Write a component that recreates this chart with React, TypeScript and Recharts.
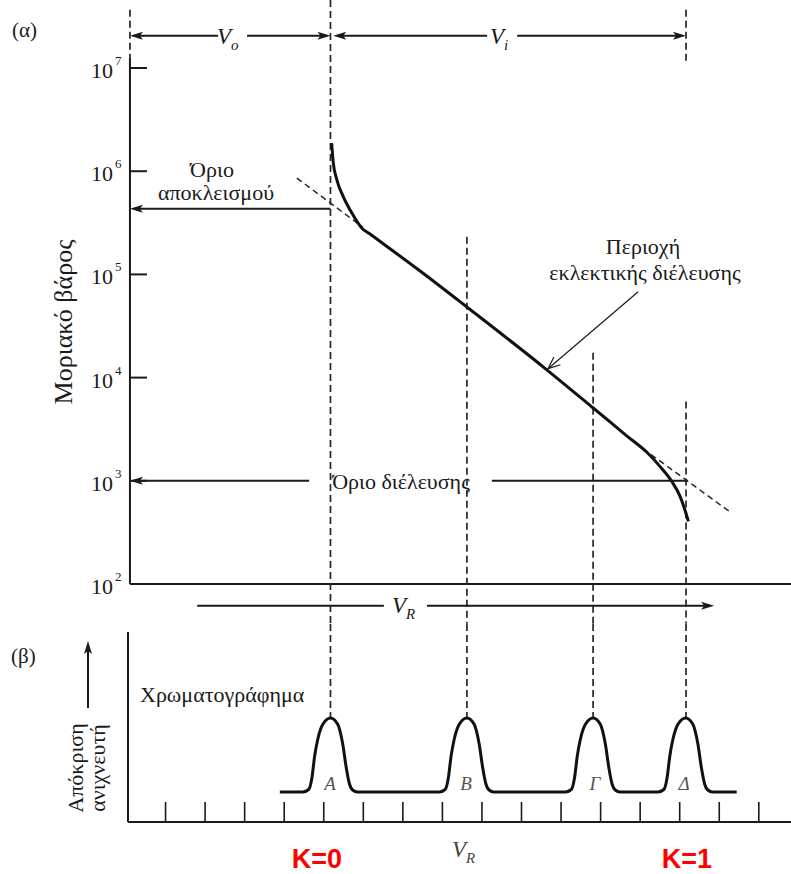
import React from 'react';
import { LineChart, Line, XAxis, YAxis, ReferenceLine } from 'recharts';

// ---------------- data ----------------
// (a) molecular weight calibration curve: elution volume (tick units) vs molar mass
const curveV = [5.2, 5.24, 5.33, 5.49, 5.71, 5.96, 6.17, 7.52, 8.61, 10.64, 11.82, 12.66, 13.17, 13.5, 13.8, 14.01, 14.13, 14.22];
const curveM = [1.87e6, 1.21e6, 8.3e5, 5.7e5, 3.94e5, 2.82e5, 2.46e5, 1.02e5, 4.86e4, 1.19e4, 5.05e3, 2.73e3, 1.89e3, 1.38e3, 987, 706, 525, 404];
const upperTangentV = [4.32, 5.99];
const upperTangentM = [8.59e5, 2.86e5];
const lowerTangentV = [13.07, 15.31];
const lowerTangentM = [2.05e3, 488];
const yTickExponents = [2, 3, 4, 5, 6, 7];
const yTicks = yTickExponents.map((e) => Math.pow(10, e));

// limits
const exclusionLimitM = 4.33e5;
const permeationLimitM = 1000;

// (b) chromatogram
const peakNames = ['A', 'B', 'Γ', 'Δ'];
const peakV = [5.17, 8.62, 11.81, 14.16];
const peakTop = 10.4;
const chromV = [
  3.89,
  4.47, 4.62, 4.7, 4.77, 4.85, 4.98, 5.17, 5.35, 5.48, 5.57, 5.65, 5.73, 5.85,
  7.92, 8.07, 8.15, 8.22, 8.3, 8.43, 8.62, 8.8, 8.93, 9.02, 9.1, 9.18, 9.3,
  11.11, 11.26, 11.34, 11.41, 11.49, 11.62, 11.81, 11.99, 12.12, 12.21, 12.29, 12.37, 12.49,
  13.45, 13.6, 13.68, 13.75, 13.83, 13.96, 14.15, 14.33, 14.46, 14.55, 14.63, 14.71, 14.83,
  15.44,
];
const chromR = [
  3.0,
  3.0, 3.25, 4.4, 6.6, 8.3, 9.8, 10.4, 9.8, 7.8, 5.4, 3.8, 3.2, 3.0,
  3.0, 3.25, 4.4, 6.6, 8.3, 9.8, 10.4, 9.8, 7.8, 5.4, 3.8, 3.2, 3.0,
  3.0, 3.25, 4.4, 6.6, 8.3, 9.8, 10.4, 9.8, 7.8, 5.4, 3.8, 3.2, 3.0,
  3.0, 3.25, 4.4, 6.6, 8.3, 9.8, 10.4, 9.8, 7.8, 5.4, 3.8, 3.2, 3.0,
  3.0,
];
const xTickValues = [1, 2, 3, 4, 5, 6, 7, 8, 9, 10, 11, 12, 13, 14, 15, 16];

// ---------------- layout constants ----------------
const X_MAX = 16.814;
const M_MIN = 100;
const M_MAX = 4.08e7;
const AXIS_X_TOP = 0.1;
const AXIS_X_BOT = 0.05;
const INK = '#1a1a1a';
const DASH = '#262626';
const SERIF = "'Liberation Serif', 'DejaVu Serif', serif";
const SANS = "'Liberation Sans', Arial, sans-serif";

const curveData = curveV.map((v, i) => ({ v, m: curveM[i] }));
const upperTangentData = upperTangentV.map((v, i) => ({ v, m: upperTangentM[i] }));
const lowerTangentData = lowerTangentV.map((v, i) => ({ v, m: lowerTangentM[i] }));
const chromData = chromV.map((v, i) => ({ v, r: chromR[i] }));

type HeadKind = 'none' | 'end';
const makeArrow = (head: HeadKind, open = false, w = 2) => (p: any) => {
  const { x1, y1, x2, y2 } = p;
  const dx = x2 - x1;
  const dy = y2 - y1;
  const len = Math.hypot(dx, dy) || 1;
  const ux = dx / len;
  const uy = dy / len;
  const L = open ? 12 : 13;
  const W = open ? 5 : 4;
  const bx = x2 - ux * L;
  const by = y2 - uy * L;
  const lx = bx - uy * W;
  const ly = by + ux * W;
  const rx = bx + uy * W;
  const ry = by - ux * W;
  const filled = head === 'end' && !open;
  return (
    <g>
      <line x1={x1} y1={y1} x2={filled ? x2 - ux * 4 : x2} y2={filled ? y2 - uy * 4 : y2} stroke={INK} strokeWidth={w} />
      {head === 'end' && open && (
        <polyline points={`${lx},${ly} ${x2},${y2} ${rx},${ry}`} fill="none" stroke={INK} strokeWidth={w} />
      )}
      {filled && (
        <polygon points={`${x2},${y2} ${lx},${ly} ${bx + ux * 3},${by + uy * 3} ${rx},${ry}`} fill={INK} />
      )}
    </g>
  );
};

const YTick = (props: any) => {
  const { y, payload } = props;
  const exp = Math.round(Math.log10(payload.value));
  return (
    <g style={{ fontFamily: SERIF }}>
      <text x={113} y={y + 10} textAnchor="end" fontSize={22} fill={INK} style={{ fontFamily: SERIF }}>10</text>
      <text x={115} y={y - 3} fontSize={13} fill={INK} style={{ fontFamily: SERIF }}>{exp}</text>
    </g>
  );
};

const dashProps = { stroke: DASH, strokeWidth: 1.7, strokeDasharray: '7 4', ifOverflow: 'visible' as const };
const solidProps = { stroke: INK, strokeWidth: 2, ifOverflow: 'visible' as const };

const TopChart = () => (
  <LineChart width={791} height={624} margin={{ top: 5, right: 0, bottom: 40, left: 0 }}>
    <XAxis type="number" dataKey="v" domain={[0, X_MAX]} hide allowDataOverflow />
    <YAxis
      type="number"
      scale="log"
      domain={[M_MIN, M_MAX]}
      allowDataOverflow
      ticks={yTicks}
      interval={0}
      tick={<YTick />}
      tickLine={false}
      axisLine={false}
      width={126}
    />
    {/* axes */}
    <ReferenceLine {...solidProps} segment={[{ x: AXIS_X_TOP, y: M_MIN }, { x: AXIS_X_TOP, y: 1.26e7 }]} />
    <ReferenceLine {...solidProps} segment={[{ x: AXIS_X_TOP, y: M_MIN }, { x: X_MAX, y: M_MIN }]} />
    {yTicks.slice(1).map((t) => (
      <ReferenceLine key={t} {...solidProps} segment={[{ x: AXIS_X_TOP, y: t }, { x: 0.53, y: t }]} />
    ))}
    {/* dashed guides */}
    <ReferenceLine {...dashProps} segment={[{ x: AXIS_X_TOP, y: 3.67e7 }, { x: AXIS_X_TOP, y: 1.26e7 }]} />
    <ReferenceLine {...dashProps} segment={[{ x: peakV[0], y: 4.57e7 }, { x: peakV[0], y: 41.2 }]} />
    <ReferenceLine {...dashProps} segment={[{ x: peakV[1], y: 2.32e5 }, { x: peakV[1], y: 41.2 }]} />
    <ReferenceLine {...dashProps} segment={[{ x: peakV[2], y: 1.74e4 }, { x: peakV[2], y: 41.2 }]} />
    <ReferenceLine {...dashProps} segment={[{ x: peakV[3], y: 5.87e3 }, { x: peakV[3], y: 41.2 }]} />
    <ReferenceLine {...dashProps} segment={[{ x: peakV[3], y: 3.67e7 }, { x: peakV[3], y: 1.08e7 }]} />
    {/* Vo / Vi arrows */}
    <ReferenceLine ifOverflow="visible" segment={[{ x: 2.33, y: 2.06e7 }, { x: AXIS_X_TOP, y: 2.06e7 }]} shape={makeArrow('end')} />
    <ReferenceLine ifOverflow="visible" segment={[{ x: 3.06, y: 2.06e7 }, { x: peakV[0], y: 2.06e7 }]} shape={makeArrow('end')} />
    <ReferenceLine ifOverflow="visible" segment={[{ x: 9.13, y: 2.06e7 }, { x: 5.24, y: 2.06e7 }]} shape={makeArrow('end')} />
    <ReferenceLine ifOverflow="visible" segment={[{ x: 9.89, y: 2.06e7 }, { x: peakV[3], y: 2.06e7 }]} shape={makeArrow('end')} />
    {/* limits */}
    <ReferenceLine ifOverflow="visible" segment={[{ x: peakV[0], y: exclusionLimitM }, { x: AXIS_X_TOP, y: exclusionLimitM }]} shape={makeArrow('end')} />
    <ReferenceLine ifOverflow="visible" segment={[{ x: 4.63, y: permeationLimitM }, { x: AXIS_X_TOP, y: permeationLimitM }]} shape={makeArrow('end')} />
    <ReferenceLine ifOverflow="visible" segment={[{ x: 9.25, y: permeationLimitM }, { x: 14.21, y: permeationLimitM }]} shape={makeArrow('none')} />
    {/* VR arrow */}
    <ReferenceLine ifOverflow="visible" segment={[{ x: 1.8, y: 61.7 }, { x: 6.52, y: 61.7 }]} shape={makeArrow('none')} />
    <ReferenceLine ifOverflow="visible" segment={[{ x: 7.61, y: 61.7 }, { x: 14.87, y: 61.7 }]} shape={makeArrow('end')} />
    {/* selective permeation pointer */}
    <ReferenceLine ifOverflow="visible" segment={[{ x: 12.95, y: 6.79e4 }, { x: 10.67, y: 1.22e4 }]} shape={makeArrow('end', true, 1.2)} />
    {/* tangents */}
    <Line data={upperTangentData} dataKey="m" type="linear" stroke={DASH} strokeWidth={1.5} strokeDasharray="6 4" dot={false} isAnimationActive={false} />
    <Line data={lowerTangentData} dataKey="m" type="linear" stroke={DASH} strokeWidth={1.5} strokeDasharray="6 4" dot={false} isAnimationActive={false} />
    {/* calibration curve */}
    <Line data={curveData} dataKey="m" type="monotone" stroke="#111" strokeWidth={3} dot={false} isAnimationActive={false} />
  </LineChart>
);

const BottomChart = () => (
  <LineChart width={791} height={250} margin={{ top: 8, right: 0, bottom: 52, left: 126 }}>
    <XAxis type="number" dataKey="v" domain={[0, X_MAX]} hide allowDataOverflow />
    <YAxis type="number" domain={[0, 19]} hide allowDataOverflow />
    <ReferenceLine {...solidProps} segment={[{ x: AXIS_X_BOT, y: 0 }, { x: AXIS_X_BOT, y: 19 }]} />
    <ReferenceLine {...solidProps} segment={[{ x: AXIS_X_BOT, y: 0 }, { x: X_MAX, y: 0 }]} />
    {xTickValues.map((t) => (
      <ReferenceLine key={t} {...solidProps} strokeWidth={1.6} segment={[{ x: t, y: 0 }, { x: t, y: 2 }]} />
    ))}
    {peakV.map((p) => (
      <ReferenceLine key={p} {...dashProps} segment={[{ x: p, y: 19.8 }, { x: p, y: peakTop }]} />
    ))}
    <Line data={chromData} dataKey="r" type="monotone" stroke="#111" strokeWidth={3} dot={false} isAnimationActive={false} />
  </LineChart>
);

const T = (props: any) => <text fill={INK} {...props} style={{ fontFamily: SERIF, ...(props.style || {}) }} />;

const Overlay = () => (
  <svg width={791} height={874} style={{ position: 'absolute', left: 0, top: 0, pointerEvents: 'none' }}>
    <T x={12} y={37} fontSize={21}>(α)</T>
    <T x={217} y={44} fontSize={23} fontStyle="italic">V<tspan dy={6} fontSize={15}>o</tspan></T>
    <T x={490} y={44} fontSize={23} fontStyle="italic">V<tspan dy={6} fontSize={15}>i</tspan></T>
    <T x={212} y={177} fontSize={22} textAnchor="middle">Όριο</T>
    <T x={216} y={200} fontSize={22} textAnchor="middle">αποκλεισμού</T>
    <T x={643} y={254} fontSize={22} textAnchor="middle">Περιοχή</T>
    <T x={645} y={280} fontSize={22} textAnchor="middle">εκλεκτικής διέλευσης</T>
    <T x={401} y={489} fontSize={22} textAnchor="middle">Όριο διέλευσης</T>
    <T x={392} y={613} fontSize={23} fontStyle="italic">V<tspan dy={6} fontSize={15}>R</tspan></T>
    <T transform="translate(72,322) rotate(-90)" fontSize={26} textAnchor="middle">Μοριακό βάρος</T>
    <T x={11} y={663} fontSize={21}>(β)</T>
    <T x={140} y={702} fontSize={22}>Χρωματογράφημα</T>
    <T transform="translate(83,768) rotate(-90)" fontSize={22} textAnchor="middle">Απόκριση</T>
    <T transform="translate(105,768) rotate(-90)" fontSize={22} textAnchor="middle">ανιχνευτή</T>
    <line x1={88} y1={708} x2={88} y2={650} stroke={INK} strokeWidth={2} />
    <polygon points="88,641 84,654 88,651 92,654" fill={INK} />
    {peakNames.map((n, i) => (
      <T key={n} x={[330, 466, 595, 684][i]} y={790} fontSize={19} fontStyle="italic" textAnchor="middle" fill="#555">{n}</T>
    ))}
    <T x={452} y={857} fontSize={23} fontStyle="italic" fill="#444">V<tspan dy={6} fontSize={15}>R</tspan></T>
    <text x={317} y={868} fontSize={27} fontWeight="bold" textAnchor="middle" fill="#ff0000" style={{ fontFamily: SANS }}>K=0</text>
    <text x={687} y={868} fontSize={27} fontWeight="bold" textAnchor="middle" fill="#ff0000" style={{ fontFamily: SANS }}>K=1</text>
  </svg>
);

export default function App() {
  return (
    <div style={{ position: 'absolute', left: 0, top: 0, width: 791, height: 874, background: '#fff', overflow: 'hidden' }}>
      <div style={{ position: 'absolute', left: 0, top: 0 }}>
        <TopChart />
      </div>
      <div style={{ position: 'absolute', left: 0, top: 624 }}>
        <BottomChart />
      </div>
      <Overlay />
    </div>
  );
}
